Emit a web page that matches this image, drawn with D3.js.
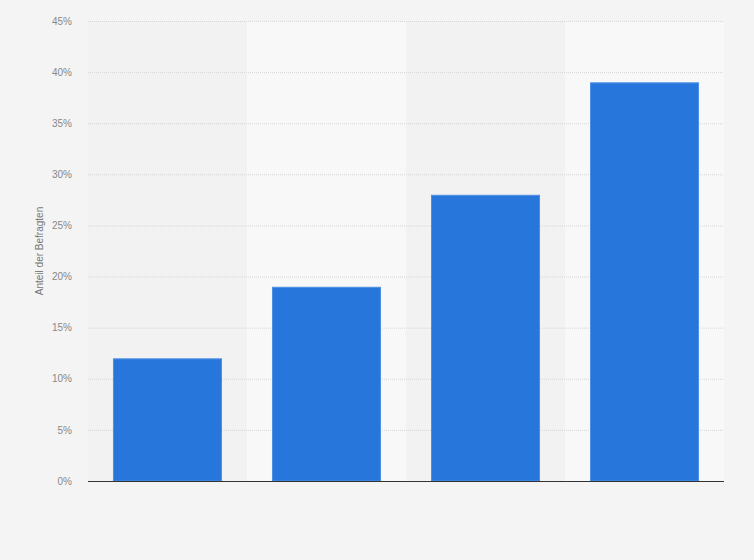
<!DOCTYPE html>
<html><head><meta charset="utf-8">
<script src="https://cdn.jsdelivr.net/npm/d3@7"></script>
<style>
html,body{margin:0;padding:0;background:#f4f4f4;}
svg{display:block;font-family:"Liberation Sans",Arial,sans-serif;}
</style></head>
<body>
<svg id="c" width="754" height="560"></svg>
<script>
const categories = ["A", "B", "C", "D"];
const values = [12, 19, 28, 39];
const yTicks = [0, 5, 10, 15, 20, 25, 30, 35, 40, 45];
const yTitle = "Anteil der Befragten";

const svg = d3.select("#c");
const W = 754, H = 560;
const m = {left: 88, right: 30, top: 21, bottom: 79};
const x0 = m.left, x1 = W - m.right, y0 = H - m.bottom, y1 = m.top;

const band = d3.scaleBand().domain(categories).range([x0, x1]).padding(0);
const xb = d3.scaleBand().domain(categories).range([x0, x1]).paddingInner(0.3145).paddingOuter(0.157);
const y = d3.scaleLinear().domain([0, 45]).range([y0, y1]);

svg.append("rect").attr("width", W).attr("height", H).attr("fill", "#f4f4f4");

// alternating column bands
svg.append("g").selectAll("rect").data(categories).join("rect")
  .attr("x", d => band(d)).attr("y", y(45))
  .attr("width", band.bandwidth()).attr("height", y(0) - y(45))
  .attr("fill", (d, i) => i % 2 === 0 ? "#f2f2f2" : "#f8f8f8");

// gridlines
svg.append("g").selectAll("line").data(yTicks.filter(t => t > 0)).join("line")
  .attr("x1", x0).attr("x2", x1)
  .attr("y1", d => y(d) + 0.5).attr("y2", d => y(d) + 0.5)
  .attr("stroke", "#d6d6d6").attr("stroke-width", 1).attr("stroke-dasharray", "1,1");

// y axis labels
const yAxis = d3.axisLeft(y).tickValues(yTicks).tickSize(0).tickPadding(16).tickFormat(d => d + "%");
const ga = svg.append("g").attr("transform", `translate(${x0},0)`).call(yAxis);
ga.select(".domain").remove();
ga.selectAll("text").attr("fill", "#888").attr("font-size", "10px")
  .attr("font-family", "'Liberation Sans',Arial,sans-serif");

// bars
svg.append("g").selectAll("rect").data(values).join("rect")
  .attr("x", (d, i) => xb(categories[i]) + 0.5)
  .attr("y", d => y(d) + 0.5)
  .attr("width", xb.bandwidth() - 1)
  .attr("height", d => y(0) - y(d) - 0.5)
  .attr("fill", "#2776dc")
  .attr("stroke", "#4d8fe3").attr("stroke-width", 1);

// baseline
svg.append("line").attr("x1", x0).attr("x2", x1)
  .attr("y1", y0 + 0.5).attr("y2", y0 + 0.5)
  .attr("stroke", "#333").attr("stroke-width", 1);

// y title
svg.append("text")
  .attr("transform", `translate(43,${(y0 + y1) / 2}) rotate(-90)`)
  .attr("text-anchor", "middle")
  .attr("fill", "#777").attr("font-size", "10px")
  .text(yTitle);
</script>
</body></html>
